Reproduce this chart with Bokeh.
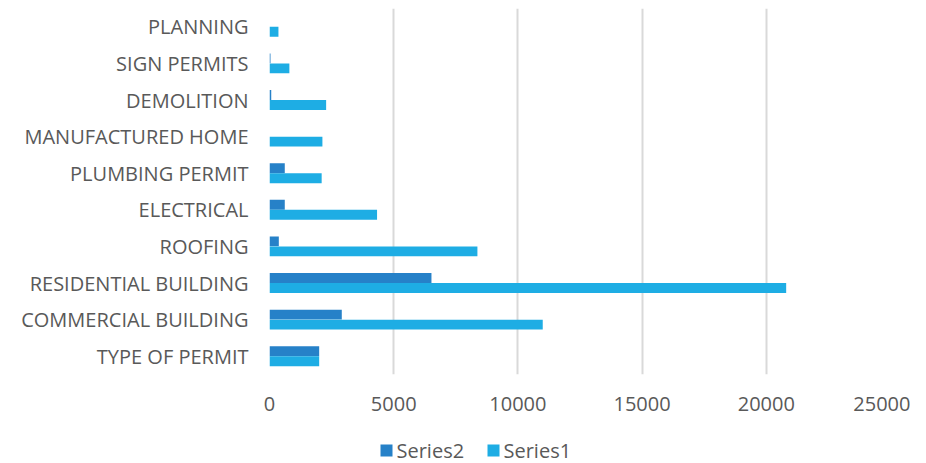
from bokeh.plotting import figure
from bokeh.layouts import column
from bokeh.models import ColumnDataSource, Range1d, FactorRange, FixedTicker, NumeralTickFormatter
from bokeh.core.properties import value
from bokeh.transform import dodge
from bokeh.embed import file_html
from bokeh.resources import INLINE

categories = ["TYPE OF PERMIT", "COMMERCIAL BUILDING", "RESIDENTIAL BUILDING", "ROOFING",
              "ELECTRICAL", "PLUMBING PERMIT", "MANUFACTURED HOME", "DEMOLITION",
              "SIGN PERMITS", "PLANNING"]
series1 = [2000, 11000, 20800, 8370, 4330, 2100, 2130, 2280, 800, 360]
series2 = [2000, 2910, 6520, 375, 615, 615, 0, 70, 40, 0]
x_ticks = [0, 5000, 10000, 15000, 20000, 25000]
series_names = ["Series2", "Series1"]

FONT = "Open Sans"
TXT = "#595959"
C2 = "#2681C8"
C1 = "#1EADE4"

src = ColumnDataSource(dict(cat=categories, s1=series1, s2=series2))

p = figure(width=910, height=420, output_backend="svg", toolbar_location=None,
           y_range=FactorRange(*categories), x_range=Range1d(0, 25000),
           min_border_left=269, min_border_right=20, min_border_top=8, min_border_bottom=46)
p.outline_line_color = None

r2 = p.hbar(y=dodge("cat", 0.137, range=p.y_range), right="s2", left=0, height=0.27,
            source=src, color=C2, line_color=None)
r1 = p.hbar(y=dodge("cat", -0.137, range=p.y_range), right="s1", left=0, height=0.27,
            source=src, color=C1, line_color=None)

p.ygrid.grid_line_color = None
p.xgrid.grid_line_color = "#D9D9D9"
p.xgrid.grid_line_width = 2

p.xaxis.ticker = FixedTicker(ticks=x_ticks)
p.xaxis.formatter = NumeralTickFormatter(format="0")
p.xaxis.axis_line_color = None
p.xaxis.major_tick_line_color = None
p.xaxis.minor_tick_line_color = None
p.xaxis.major_label_text_font = FONT
p.xaxis.major_label_text_font_size = "20px"
p.xaxis.major_label_text_color = TXT
p.xaxis.major_label_standoff = 16

p.yaxis.axis_line_color = None
p.yaxis.major_tick_line_color = None
p.yaxis.minor_tick_line_color = None
p.yaxis.major_label_text_font = FONT
p.yaxis.major_label_text_font_size = "20px"
p.yaxis.major_label_text_color = TXT
p.yaxis.major_label_standoff = 15

# legend strip below the chart; its frame is aligned with the chart frame (x 269..890 px)
q = figure(width=910, height=43, output_backend="svg", toolbar_location=None,
           x_range=Range1d(269, 890), y_range=Range1d(0, 43),
           min_border_left=269, min_border_right=20, min_border_top=0, min_border_bottom=0)
q.axis.visible = False
q.grid.visible = False
q.outline_line_color = None
key_x = [386, 493]
key_y = [13, 13]
q.scatter(x=key_x, y=key_y, marker="square", size=12, color=[C2, C1], line_color=None)
q.text(x=[k + 10 for k in key_x], y=key_y, text=series_names, text_font=value(FONT),
       text_font_size="20px", text_color=TXT, text_baseline="middle", text_align="left")

layout = column(p, q, spacing=0)
open("out.html", "w").write(file_html(layout, INLINE))
